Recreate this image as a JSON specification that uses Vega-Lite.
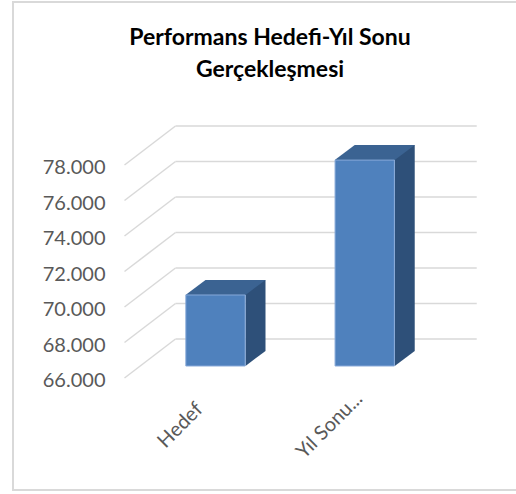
{
  "$schema": "https://vega.github.io/schema/vega-lite/v6.json",
  "width": 504,
  "height": 488,
  "autosize": {"type": "none"},
  "padding": {"left": 13, "top": 2, "right": -1, "bottom": 4},
  "background": "white",
  "config": {"view": {"stroke": "#D9D9D9", "strokeWidth": 2}},
  "title": {
    "text": ["Performans Hedefi-Yıl Sonu", "Gerçekleşmesi"],
    "font": "Lato",
    "fontSize": 23,
    "fontWeight": "bold",
    "color": "#000000",
    "anchor": "middle",
    "frame": "group",
    "offset": -80,
    "lineHeight": 32,
    "dx": 5
  },
  "datasets": {
    "bars": [
      {"kategori": "Hedef", "deger": 70000},
      {"kategori": "Yıl Sonu Gerçekleşmesi", "deger": 77600}
    ],
    "ticks": [
      {"v": 66000}, {"v": 68000}, {"v": 70000}, {"v": 72000},
      {"v": 74000}, {"v": 76000}, {"v": 78000}
    ]
  },
  "resolve": {"axis": {"x": "independent", "y": "independent"}},
  "layer": [
    {
      "data": {"name": "ticks"},
      "mark": {"type": "rule", "color": "#D9D9D9", "strokeWidth": 1.5, "xOffset": -91, "x2Offset": -40, "y2Offset": -39},
      "encoding": {
        "x": {"datum": "Hedef", "type": "nominal", "axis": null,
              "scale": {"type": "band", "domain": ["Hedef", "Yıl Sonu Gerçekleşmesi"], "paddingInner": 0.6026, "paddingOuter": 0.99, "align": 0.585}},
        "x2": {"datum": "Hedef"},
        "y": {"field": "v", "type": "quantitative", "axis": null,
              "scale": {"domain": [59690, 87183], "nice": false, "zero": false}},
        "y2": {"field": "v"}
      }
    },
    {
      "data": {"name": "ticks"},
      "mark": {"type": "rule", "color": "#D9D9D9", "strokeWidth": 1.5, "xOffset": -40, "x2Offset": 112, "yOffset": -39},
      "encoding": {
        "x": {"datum": "Hedef", "type": "nominal", "axis": null,
              "scale": {"type": "band", "domain": ["Hedef", "Yıl Sonu Gerçekleşmesi"], "paddingInner": 0.6026, "paddingOuter": 0.99, "align": 0.585}},
        "x2": {"datum": "Yıl Sonu Gerçekleşmesi"},
        "y": {"field": "v", "type": "quantitative", "axis": null,
              "scale": {"domain": [59690, 87183], "nice": false, "zero": false}}
      }
    },
    {
      "data": {"name": "bars"},
      "mark": {"type": "bar", "color": "#2E5079", "width": 20, "xOffset": 40, "yOffset": -27, "y2Offset": -27},
      "encoding": {
        "x": {"field": "kategori", "type": "nominal", "axis": null,
              "scale": {"type": "band", "domain": ["Hedef", "Yıl Sonu Gerçekleşmesi"], "paddingInner": 0.6026, "paddingOuter": 0.99, "align": 0.585}},
        "y": {"field": "deger", "type": "quantitative", "axis": null,
              "scale": {"domain": [59690, 87183], "nice": false, "zero": false}},
        "y2": {"datum": 66000}
      }
    },
    {
      "data": {"name": "bars"},
      "mark": {"type": "point", "shape": "M 0 0 L 0 0.75 L 1 0 Z", "size": 1600, "filled": true, "color": "#2E5079", "opacity": 1, "strokeWidth": 0, "xOffset": 30, "yOffset": -27},
      "encoding": {
        "x": {"field": "kategori", "type": "nominal", "axis": null,
              "scale": {"type": "band", "domain": ["Hedef", "Yıl Sonu Gerçekleşmesi"], "paddingInner": 0.6026, "paddingOuter": 0.99, "align": 0.585}},
        "y": {"datum": 66000, "type": "quantitative", "axis": null,
              "scale": {"domain": [59690, 87183], "nice": false, "zero": false}}
      }
    },
    {
      "data": {"name": "bars"},
      "mark": {"type": "point", "shape": "M -3 0 L 0 0 L 1 -0.75 L -2 -0.75 Z", "size": 1600, "filled": true, "color": "#3B6392", "opacity": 1, "strokeWidth": 0, "xOffset": 30, "yOffset": -12},
      "encoding": {
        "x": {"field": "kategori", "type": "nominal", "axis": null,
              "scale": {"type": "band", "domain": ["Hedef", "Yıl Sonu Gerçekleşmesi"], "paddingInner": 0.6026, "paddingOuter": 0.99, "align": 0.585}},
        "y": {"field": "deger", "type": "quantitative", "axis": null,
              "scale": {"domain": [59690, 87183], "nice": false, "zero": false}}
      }
    },
    {
      "data": {"name": "bars"},
      "mark": {"type": "bar", "color": "#4F81BD", "stroke": "#86A8D8", "strokeWidth": 1, "yOffset": -12, "y2Offset": -12},
      "encoding": {
        "x": {"field": "kategori", "type": "nominal",
              "scale": {"type": "band", "domain": ["Hedef", "Yıl Sonu Gerçekleşmesi"], "paddingInner": 0.6026, "paddingOuter": 0.99, "align": 0.585},
              "axis": {"title": null, "domain": false, "ticks": false, "grid": false,
                       "labelAngle": -45, "labelAlign": "center", "labelBaseline": "middle",
                       "labelOffset": -35, "labelPadding": 0, "offset": -65,
                       "labelFont": "Lato", "labelFontSize": 20, "labelColor": "#595959",
                       "labelExpr": "datum.label == 'Yıl Sonu Gerçekleşmesi' ? 'Yıl Sonu...' : datum.label"}},
        "y": {"field": "deger", "type": "quantitative",
              "scale": {"domain": [59690, 87183], "nice": false, "zero": false},
              "axis": {"title": null, "domain": false, "ticks": false, "grid": false,
                       "values": [66000, 68000, 70000, 72000, 74000, 76000, 78000],
                       "labelPadding": 0, "offset": -92, "labelOffset": 3,
                       "labelFont": "Lato", "labelFontSize": 20, "labelColor": "#595959",
                       "labelExpr": "replace(format(datum.value, ',.0f'), ',', '.')"}},
        "y2": {"datum": 66000}
      }
    }
  ]
}
